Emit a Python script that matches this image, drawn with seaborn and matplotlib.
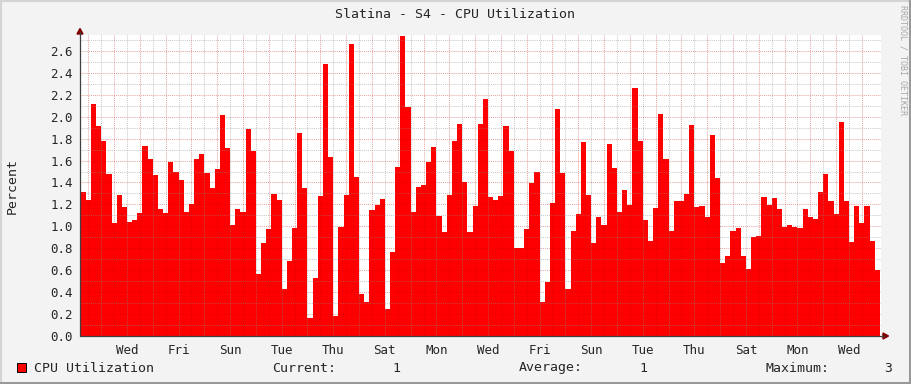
import numpy as np
import pandas as pd
import matplotlib
matplotlib.use("Agg")
import matplotlib.pyplot as plt
from matplotlib.patches import Rectangle
from matplotlib.lines import Line2D
import seaborn as sns

# CPU utilization (%), one value per 4.8 h step
cpu = [
    1.31, 1.24, 2.115, 1.915, 1.78, 1.477, 1.03, 1.286, 1.176, 1.04,
    1.055, 1.12, 1.733, 1.614, 1.468, 1.158, 1.12, 1.587, 1.495,
    1.42, 1.134, 1.204, 1.614, 1.66, 1.486, 1.35, 1.523, 2.015, 1.714,
    1.012, 1.158, 1.134, 1.888, 1.687, 0.565, 0.848, 0.976, 1.295, 1.24,
    0.43, 0.684, 0.985, 1.851, 1.35, 0.164, 0.529, 1.277, 2.48, 1.632,
    0.182, 0.994, 1.286, 2.663, 1.45, 0.383, 0.31, 1.149, 1.195,
    1.249, 0.246, 0.766, 1.541, 2.736, 2.088, 1.131, 1.359, 1.377, 1.587,
    1.723, 1.094, 0.948, 1.286, 1.778, 1.933, 1.404, 0.948, 1.185,
    1.933, 2.161, 1.267, 1.24, 1.277, 1.915, 1.687, 0.802, 0.802, 0.976,
    1.395, 1.495, 0.31, 0.492, 1.213, 2.07, 1.486, 0.43, 0.957,
    1.112, 1.769, 1.286, 0.848, 1.085, 1.012, 1.751, 1.532, 1.131, 1.331,
    1.195, 2.261, 1.778, 1.058, 0.866, 1.167, 2.024, 1.614, 0.957, 1.231,
    1.231, 1.295, 1.924, 1.176, 1.185, 1.085, 1.833, 1.441, 0.666, 0.73,
    0.957, 0.985, 0.73, 0.611, 0.903, 0.912, 1.267, 1.195, 1.258,
    1.158, 0.994, 1.012, 0.994, 0.985, 1.158, 1.085, 1.067, 1.313, 1.477,
    1.231, 1.112, 1.951, 1.231, 0.857, 1.185, 1.03, 1.185, 0.866, 0.602,
]
start_day = -0.3     # first sample, in days from the first midnight grid line
step_days = 0.2

day_labels = ["Wed", "Fri", "Sun", "Tue", "Thu", "Sat", "Mon", "Wed",
              "Fri", "Sun", "Tue", "Thu", "Sat", "Mon", "Wed"]
day_label_pos = [1.5, 3.5, 5.5, 7.5, 9.5, 11.5, 13.5, 15.5,
                 17.5, 19.5, 21.5, 23.5, 25.5, 27.5, 29.5]
y_ticks = [0.0, 0.2, 0.4, 0.6, 0.8, 1.0, 1.2, 1.4, 1.6, 1.8, 2.0, 2.2, 2.4, 2.6]

title = "Slatina - S4 - CPU Utilization"
legend_name = "CPU Utilization"
current_val, average_val, max_val = "1", "1", "3"

sns.set_style("white")
plt.rcParams['font.family'] = ['DejaVu Sans Mono']

W, H = 911, 384
BG = '#F3F3F3'
fig = plt.figure(figsize=(W / 100, H / 100), dpi=100, facecolor=BG)


def fx(px):
    return px / W


def fy(py):
    return 1 - py / H


# plot area: x 80..881, y 35..336 px
ax = fig.add_axes([fx(80), fy(336), fx(881) - fx(80), fy(35) - fy(336)])
ax.set_facecolor('white')

end_day = start_day + step_days * len(cpu)
df = pd.DataFrame({'day': start_day + step_days * (np.arange(len(cpu)) + 0.5), 'cpu': cpu})
sns.histplot(data=df, x='day', weights='cpu', binwidth=step_days,
             binrange=(start_day, end_day), element='step', fill=True,
             color='#FF0000', alpha=1, linewidth=0, ax=ax)

ax.set_xlim(-0.322, 30.74)
ax.set_ylim(0, 2.745)

# grid: red majors (midnights / 0.2), grey minors (noons / 0.1)
half_days = np.arange(0.5, 30.5, 1.0)
ax.set_xticks(np.arange(0, 31))
ax.set_xticks(half_days, minor=True)
ax.set_xticklabels([])
ax.set_xticklabels([day_labels[day_label_pos.index(p)] if p in day_label_pos else ''
                    for p in half_days], minor=True)
ax.set_yticks(y_ticks)
ax.set_yticklabels([f"{v:.1f}" for v in y_ticks])
ax.set_yticks(np.arange(0.1, 2.75, 0.2), minor=True)

ax.set_axisbelow(False)
ax.grid(which='major', color='#C00000', alpha=0.35, linestyle=(0, (1, 1)), linewidth=0.75)
ax.grid(which='minor', color='#8C8C8C', alpha=0.45, linestyle=(0, (1, 1)), linewidth=0.75)

ax.tick_params(which='both', direction='out', length=2, width=0.7, color='#7F7F7F',
               labelsize=9, pad=3)
ax.tick_params(axis='x', which='minor', pad=4)
ax.set_xlabel('')
ax.set_ylabel('')
for s in ax.spines.values():
    s.set_visible(False)

# axes with arrows
fig.add_artist(Line2D([fx(80), fx(884)], [fy(336), fy(336)], color='#404040', lw=0.9))
fig.add_artist(Line2D([fx(80), fx(80)], [fy(336), fy(32)], color='#404040', lw=0.9))
fig.add_artist(plt.Polygon([[fx(883), fy(333)], [fx(888.5), fy(336)], [fx(883), fy(339)]],
                           closed=True, color='#7F0000', transform=fig.transFigure))
fig.add_artist(plt.Polygon([[fx(77), fy(34)], [fx(80), fy(28.5)], [fx(83), fy(34)]],
                           closed=True, color='#7F0000', transform=fig.transFigure))

fig.text(fx(455), fy(14), title, ha='center', va='center', fontsize=9.5)
fig.text(fx(12), fy(186), "Percent", rotation=90, ha='center', va='center', fontsize=9.5)
fig.text(fx(903), fy(5), "RRDTOOL / TOBI OETIKER", rotation=270, ha='center', va='top',
         fontsize=6, color='#A8A8A8')

# legend line
fig.add_artist(Rectangle((fx(17), fy(372)), fx(9), 9 / H, facecolor='#FF0000',
                         edgecolor='black', linewidth=0.7, transform=fig.transFigure))
ly = fy(368)
fig.text(fx(34), ly, legend_name, ha='left', va='center', fontsize=9.5)
fig.text(fx(272), ly, "Current:", ha='left', va='center', fontsize=9.5)
fig.text(fx(400), ly, current_val, ha='right', va='center', fontsize=9.5)
fig.text(fx(519), ly, "Average:", ha='left', va='center', fontsize=9.5)
fig.text(fx(647), ly, average_val, ha='right', va='center', fontsize=9.5)
fig.text(fx(765), ly, "Maximum:", ha='left', va='center', fontsize=9.5)
fig.text(fx(892), ly, max_val, ha='right', va='center', fontsize=9.5)

# 3D-ish frame
fig.add_artist(Line2D([0, 1], [fy(1), fy(1)], color='#D4D4D4', lw=1.5))
fig.add_artist(Line2D([fx(1), fx(1)], [0, 1], color='#D4D4D4', lw=1.5))
fig.add_artist(Line2D([0, 1], [fy(382.5), fy(382.5)], color='#999999', lw=2.2))
fig.add_artist(Line2D([fx(909.5), fx(909.5)], [0, 1], color='#999999', lw=2.2))

fig.savefig('out.png', dpi=100, facecolor=BG)
